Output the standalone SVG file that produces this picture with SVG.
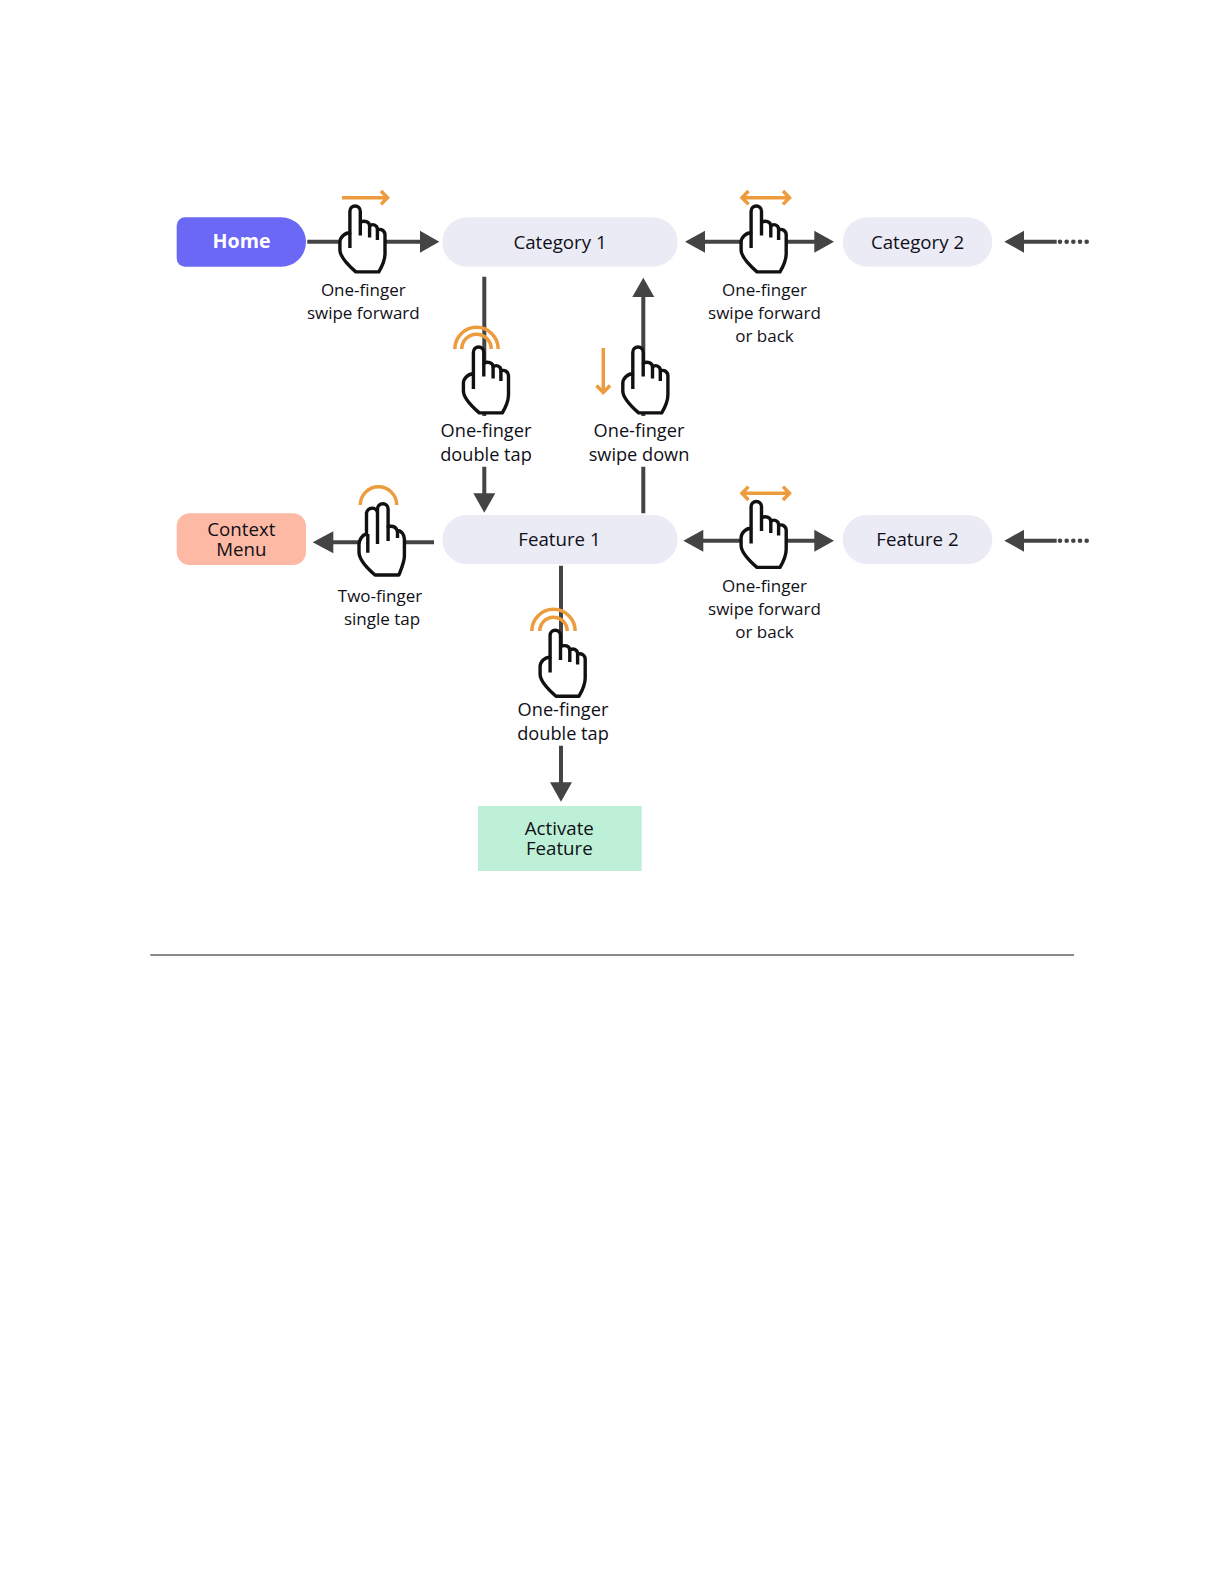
<svg xmlns="http://www.w3.org/2000/svg" width="1224" height="1584" viewBox="0 0 1224 1584">
<style>
text{font-family:"Open Sans","Noto Sans","Liberation Sans",sans-serif;fill:#101018;text-anchor:middle;font-weight:500}
.lab{font-size:17px}
.big{font-size:18.200px}
.nod{font-size:18.700px}
.c{stroke:#444;stroke-width:4;fill:none}
.d{stroke:#444;stroke-width:4.600;fill:none;stroke-linecap:round;stroke-dasharray:0 6.670}
.o{stroke:#ec9c3c;stroke-width:3.500;fill:none}
.h{fill:#fff;stroke:#111;stroke-width:3.400;stroke-linejoin:round;stroke-linecap:round}
.hl{fill:none;stroke:#111;stroke-width:3.400}
.a{fill:#444}
.pale{fill:#ebebf6}
</style>
<defs>
<g id="hand">
<path class="h" d="M11.600 28.300V6.700a5.200 5.200 0 0 1 10.400 0V17.800c3.700-2 9.300-1 9.300 3.800c2.800-2.900 7.500-1 7.800 2.900v1c3.700-1.900 7.500 1 7.600 4.800V49.200c0 4.800-2.800 12.400-6.200 18.200H17.500C10.900 61.600 1.600 53.100 1.600 45.400V37.800C1.600 33.100 6.300 28.300 11.600 28.300Z"/>
<path class="hl" d="M11.600 28.300V43.600M22 17.800V31.100M31.300 21.600V33.100M39.100 25.600V35.600"/>
</g>
</defs>
<rect width="1224" height="1584" fill="#fff"/>
<g id="connectors">
<path class="c" d="M307.300 241.700H422"/><path class="a" d="M439.300 241.700L420 230.700V252.700Z"/>
<path class="c" d="M703 241.700H816"/><path class="a" d="M685 241.700L705 230.700V252.700ZM834 241.700L814.300 230.700V252.700Z"/>
<path class="c" d="M1022 241.700H1056.700"/><path class="a" d="M1004.300 241.700L1024 230.700V252.700Z"/>
<path class="d" d="M1060 241.700H1088"/>
<path class="c" d="M484.300 276.700V416M484.300 466.700V495"/><path class="a" d="M484.300 512.700L473.300 493.300H495.300Z"/>
<path class="c" d="M643.300 513.300V466.700M643.300 416V295"/><path class="a" d="M643.300 277.700L632.300 297H654.300Z"/>
<path class="c" d="M434 542.300H331"/><path class="a" d="M312.700 542.300L333.300 531.300V553.300Z"/>
<path class="c" d="M701 540.700H816"/><path class="a" d="M683.300 540.700L703.300 529.700V551.700ZM834 540.700L814.300 529.700V551.700Z"/>
<path class="c" d="M1022 540.700H1056.700"/><path class="a" d="M1004.300 540.700L1024 529.700V551.700Z"/>
<path class="d" d="M1060 540.700H1088"/>
<path class="c" d="M561 565.700V698M561 745.700V785"/><path class="a" d="M561 801.700L550 782.300H572Z"/>
</g>
<g id="home"><path d="M185 217.300H281.300a24.700 24.700 0 0 1 0 49.400H185a8.300 8.300 0 0 1-8.300-8.300V225.600a8.300 8.300 0 0 1 8.300-8.300Z" fill="#6c68f6"/><text x="241.500" y="247.700" style="fill:#fff;font-weight:700;font-size:19.600px">Home</text></g>
<g id="category1"><rect x="442.300" y="217.300" width="235.400" height="49.400" rx="24.700" class="pale"/><text x="560" y="248.500" class="nod">Category 1</text></g>
<g id="category2"><rect x="842.700" y="217.300" width="149.600" height="49.400" rx="24.700" class="pale"/><text x="917.500" y="248.500" class="nod">Category 2</text></g>
<g id="feature1"><rect x="442.300" y="515" width="235.400" height="49" rx="24.500" class="pale"/><text x="559.500" y="546" class="nod">Feature 1</text></g>
<g id="feature2"><rect x="842.700" y="515" width="149.600" height="49" rx="24.500" class="pale"/><text x="917.500" y="546" class="nod">Feature 2</text></g>
<g id="context"><rect x="176.700" y="513.300" width="129.300" height="51.700" rx="13" fill="#fdb9a3"/><text x="241.300" y="535.700" class="nod">Context</text><text x="241.300" y="555.500" class="nod">Menu</text></g>
<g id="activate"><rect x="478" y="806" width="163.700" height="65" fill="#bdf0d6"/><text x="559.300" y="835" class="nod">Activate</text><text x="559.300" y="854.500" class="nod">Feature</text></g>
<g id="gesture-swipe-forward">
<path class="o" d="M342 197.700H388M381 191L387.500 197.700L381 204.400"/>
<use href="#hand" x="338.300" y="204.500"/>
<text x="363.300" y="295.700" class="lab">One-finger</text><text x="363.300" y="318.500" class="lab">swipe forward</text>
</g>
<g id="gesture-cat-swipe">
<path class="o" d="M743 197.700H789M748.500 191L742 197.700L748.500 204.400M783 191L789.500 197.700L783 204.400"/>
<use href="#hand" x="739.500" y="204.500"/>
<text x="764.500" y="295.700" class="lab">One-finger</text><text x="764.500" y="318.500" class="lab">swipe forward</text><text x="764.500" y="341.500" class="lab">or back</text>
</g>
<g id="gesture-double-tap">
<path class="o" d="M454.800 349a21.700 21.700 0 0 1 43.400 0M461.800 349a14.700 14.700 0 0 1 29.400 0"/>
<use href="#hand" x="461.800" y="345.500"/>
<text x="486" y="436.500" class="big">One-finger</text><text x="486" y="460.700" class="big">double tap</text>
</g>
<g id="gesture-swipe-down">
<path class="o" d="M603.300 348V392M596.500 385.500L603.300 392.500L610 385.500"/>
<use href="#hand" x="621.200" y="345.500"/>
<text x="639" y="436.500" class="big">One-finger</text><text x="639" y="460.700" class="big">swipe down</text>
</g>
<g id="gesture-two-finger">
<path class="o" d="M360.300 505a18.200 18.200 0 0 1 36.400 0"/>
<path class="h" d="M366.500 534V513a5.600 5.600 0 0 1 11 -0.500V509a5.300 5.300 0 0 1 10.600 0V526.500c5-1 8 1 9 4c4.500 0 7.300 4.500 7.300 8.500V556c0 6-3 12.500-5.500 19H375C368 569 359 560 359 552V545C359 540 362 535 366.500 534Z"/>
<path class="hl" d="M367.800 534V552.700M377.500 513V544M388.100 526V541M397.500 531V538"/>
<text x="380" y="601.500" class="lab">Two-finger</text><text x="382" y="624.500" class="lab">single tap</text>
</g>
<g id="gesture-feat-swipe">
<path class="o" d="M743 493.300H789M748.500 486.600L742 493.300L748.500 500M783 486.600L789.500 493.300L783 500"/>
<use href="#hand" x="739.500" y="500"/>
<text x="764.500" y="592.300" class="lab">One-finger</text><text x="764.500" y="615" class="lab">swipe forward</text><text x="764.500" y="638" class="lab">or back</text>
</g>
<g id="gesture-activate">
<path class="o" d="M531.800 631a21.700 21.700 0 0 1 43.400 0M539.800 631a13.700 13.700 0 0 1 27.400 0"/>
<use href="#hand" x="538.500" y="628.800"/>
<text x="563" y="715.700" class="big">One-finger</text><text x="563" y="740" class="big">double tap</text>
</g>
<line id="rule" x1="150.300" y1="955" x2="1074" y2="955" stroke="#8a8a8a" stroke-width="2"/>
</svg>
